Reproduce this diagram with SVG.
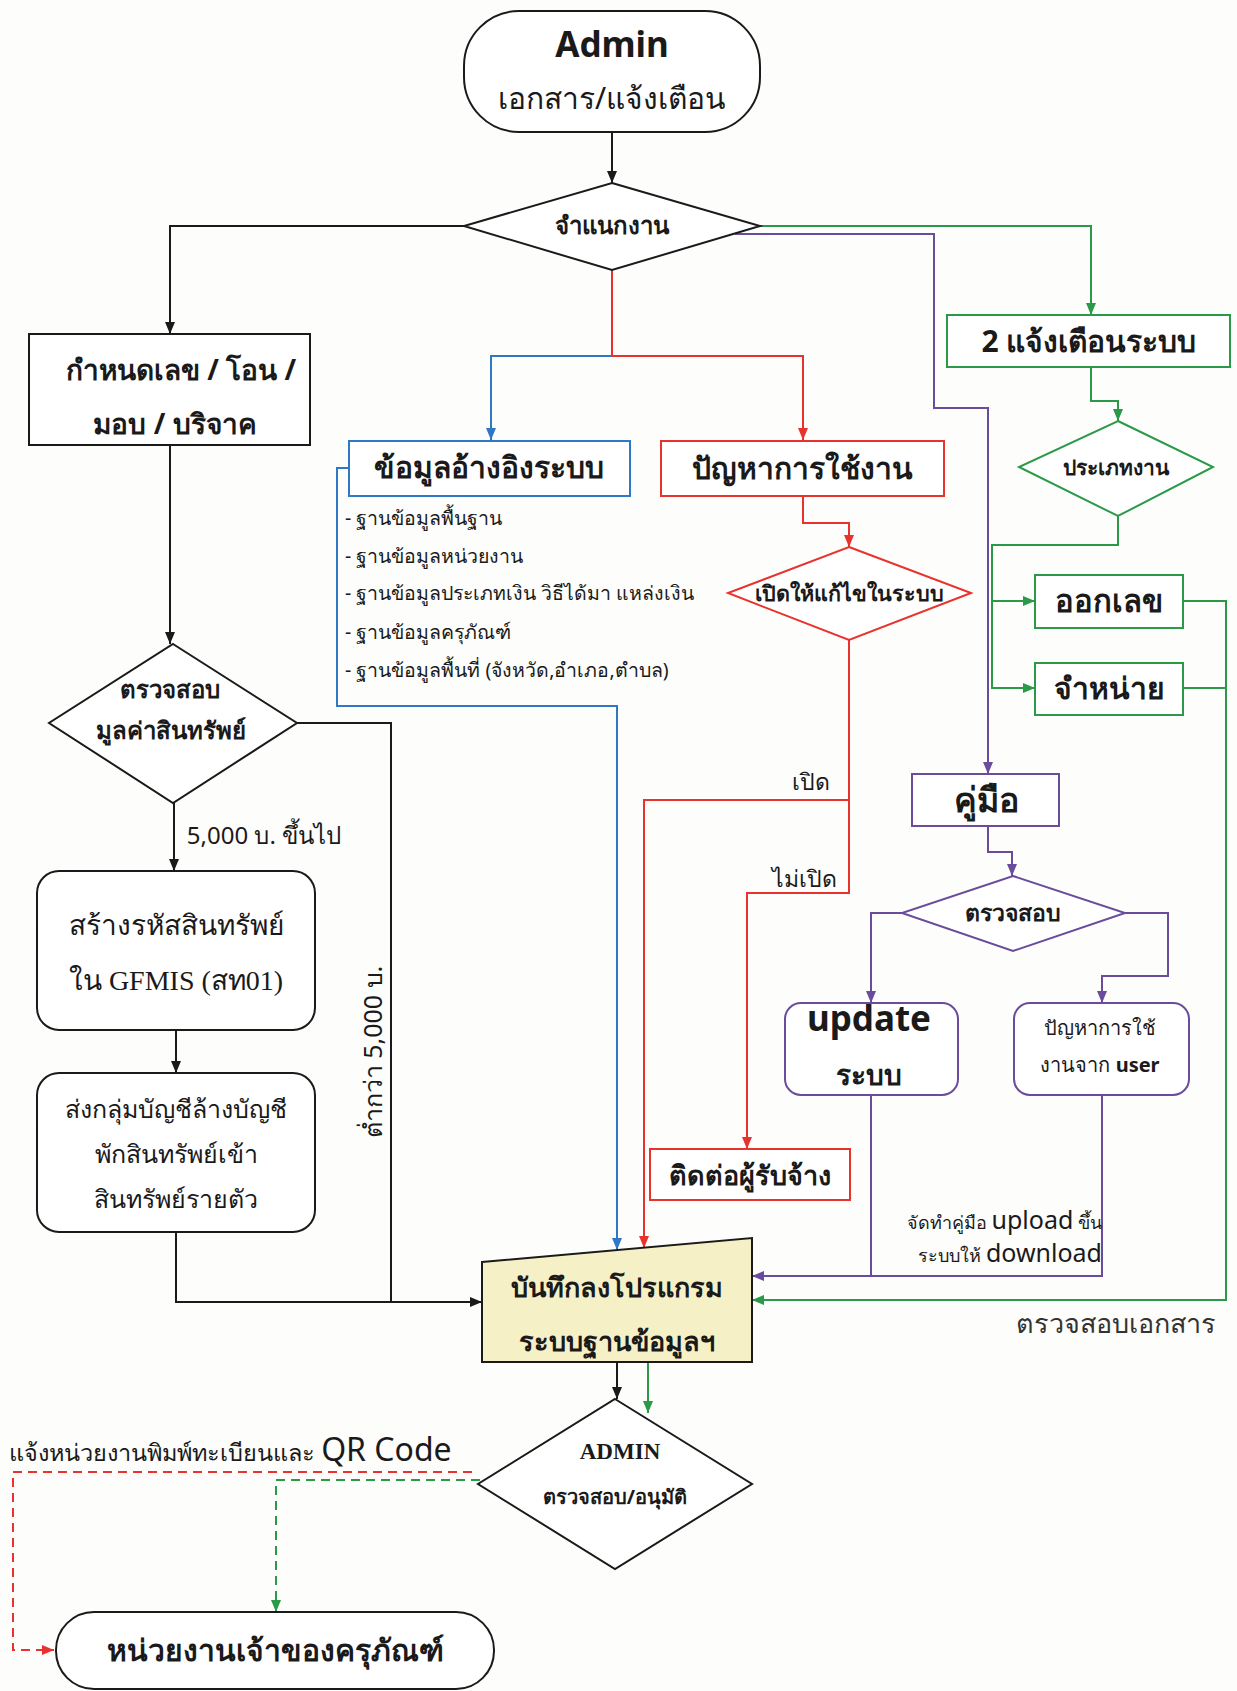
<svg xmlns="http://www.w3.org/2000/svg" width="1237" height="1691" viewBox="0 0 1237 1691">
<defs>
<style>
.bg{fill:#fdfdfb}
.k{stroke:#1a1a1a}
.r{stroke:#e8322e}
.b{stroke:#2f78c4}
.g{stroke:#2a9a48}
.p{stroke:#6a4b9c}
.ln{fill:none;stroke-width:2}
.dash{stroke-dasharray:9 6}
.box{fill:#ffffff;stroke-width:2}
.t{font-family:"Noto Sans","DejaVu Sans",sans-serif;fill:#1a1a1a;text-anchor:middle}
.bold{font-weight:bold}
.serif{font-family:"Liberation Serif","DejaVu Serif",serif}
</style>
<marker id="ak" viewBox="0 0 12 10" refX="12" refY="5" markerWidth="12" markerHeight="10" markerUnits="userSpaceOnUse" orient="auto"><path d="M0,0 L12,5 L0,10 z" fill="#1a1a1a"/></marker>
<marker id="ar" viewBox="0 0 12 10" refX="12" refY="5" markerWidth="12" markerHeight="10" markerUnits="userSpaceOnUse" orient="auto"><path d="M0,0 L12,5 L0,10 z" fill="#e8322e"/></marker>
<marker id="ab" viewBox="0 0 12 10" refX="12" refY="5" markerWidth="12" markerHeight="10" markerUnits="userSpaceOnUse" orient="auto"><path d="M0,0 L12,5 L0,10 z" fill="#2f78c4"/></marker>
<marker id="ag" viewBox="0 0 12 10" refX="12" refY="5" markerWidth="12" markerHeight="10" markerUnits="userSpaceOnUse" orient="auto"><path d="M0,0 L12,5 L0,10 z" fill="#2a9a48"/></marker>
<marker id="ap" viewBox="0 0 12 10" refX="12" refY="5" markerWidth="12" markerHeight="10" markerUnits="userSpaceOnUse" orient="auto"><path d="M0,0 L12,5 L0,10 z" fill="#6a4b9c"/></marker>
</defs>
<rect class="bg" x="0" y="0" width="1237" height="1691"/>

<g id="connectors">
<path class="ln k" d="M612,132 V183" marker-end="url(#ak)"/>
<path class="ln k" d="M464,226 H170 V334" marker-end="url(#ak)"/>
<path class="ln k" d="M170,445 V644" marker-end="url(#ak)"/>
<path class="ln k" d="M174,803 V871" marker-end="url(#ak)"/>
<path class="ln k" d="M297,723 H391 V1302"/>
<path class="ln k" d="M176,1030 V1073" marker-end="url(#ak)"/>
<path class="ln k" d="M176,1232 V1302 H482" marker-end="url(#ak)"/>
<path class="ln k" d="M617,1362 V1399" marker-end="url(#ak)"/>

<path class="ln r" d="M612,270 V356 H803 V440" marker-end="url(#ar)"/>
<path class="ln r" d="M803,496 V523 H849 V547" marker-end="url(#ar)"/>
<path class="ln r" d="M849,640 V893 H747 V1149" marker-end="url(#ar)"/>
<path class="ln r" d="M849,800 H644 V1248" marker-end="url(#ar)"/>
<path class="ln r dash" d="M472,1472 H13 V1650 H54" marker-end="url(#ar)"/>

<path class="ln b" d="M612,356 H491 V440" marker-end="url(#ab)"/>
<path class="ln b" d="M349,468 H337 V706 H617 V1250" marker-end="url(#ab)"/>

<path class="ln g" d="M760,226 H1091 V315" marker-end="url(#ag)"/>
<path class="ln g" d="M1091,367 V401 H1118 V421" marker-end="url(#ag)"/>
<path class="ln g" d="M1118,516 V545 H992 V688 H1035" marker-end="url(#ag)"/>
<path class="ln g" d="M992,601 H1035" marker-end="url(#ag)"/>
<path class="ln g" d="M1183,601 H1226 V1300 H752" marker-end="url(#ag)"/>
<path class="ln g" d="M1183,688 H1226"/>
<path class="ln g" d="M648,1362 V1413" marker-end="url(#ag)"/>
<path class="ln g dash" d="M480,1480 H276 V1612" marker-end="url(#ag)"/>

<path class="ln p" d="M735,234 H934 V408 H988 V774" marker-end="url(#ap)"/>
<path class="ln p" d="M988,826 V852 H1012 V876" marker-end="url(#ap)"/>
<path class="ln p" d="M902,913 H871 V1003" marker-end="url(#ap)"/>
<path class="ln p" d="M1125,913 H1168 V976 H1102 V1003" marker-end="url(#ap)"/>
<path class="ln p" d="M871,1095 V1276"/>
<path class="ln p" d="M1102,1095 V1276 H752" marker-end="url(#ap)"/>
</g>

<g id="n-admin">
<rect class="box k" x="464" y="11" width="296" height="121" rx="55" ry="55"/>
<text class="t bold" x="612" y="57" font-size="35">Admin</text>
<text class="t" x="612" y="109" font-size="30">เอกสาร/แจ้งเตือน</text>
</g>

<g id="n-classify">
<polygon class="box k" points="612,183 760,226 612,270 464,226"/>
<text class="t bold" x="612" y="234" font-size="24">จำแนกงาน</text>
</g>

<g id="n-assign">
<rect class="box k" x="29" y="334" width="281" height="111"/>
<text class="t bold" x="181" y="380" font-size="28">กำหนดเลข / โอน /</text>
<text class="t bold" x="175" y="434" font-size="28">มอบ / บริจาค</text>
</g>

<g id="n-value">
<polygon class="box k" points="173,644 297,723 173,803 49,723"/>
<text class="t bold" x="170" y="698" font-size="24">ตรวจสอบ</text>
<text class="t bold" x="171" y="739" font-size="24">มูลค่าสินทรัพย์</text>
</g>
<text class="t" x="264" y="844" font-size="24">5,000 บ. ขึ้นไป</text>
<text class="t" transform="translate(382,1052) rotate(-90)" font-size="25">ต่ำกว่า 5,000 บ.</text>

<g id="n-gfmis">
<rect class="box k" x="37" y="871" width="278" height="159" rx="22"/>
<text class="t serif" x="176" y="935" font-size="28">สร้างรหัสสินทรัพย์</text>
<text class="t serif" x="176" y="990" font-size="28">ใน GFMIS (สท01)</text>
</g>

<g id="n-account">
<rect class="box k" x="37" y="1073" width="278" height="159" rx="22"/>
<text class="t serif" x="176" y="1118" font-size="25">ส่งกลุ่มบัญชีล้างบัญชี</text>
<text class="t serif" x="176" y="1163" font-size="25">พักสินทรัพย์เข้า</text>
<text class="t serif" x="176" y="1208" font-size="25">สินทรัพย์รายตัว</text>
</g>

<g id="n-refdata">
<rect class="box b" x="349" y="441" width="281" height="55"/>
<text class="t bold" x="489" y="478" font-size="30">ข้อมูลอ้างอิงระบบ</text>
<g class="t" font-size="19.5" style="text-anchor:start">
<text x="345" y="525">- ฐานข้อมูลพื้นฐาน</text>
<text x="345" y="563">- ฐานข้อมูลหน่วยงาน</text>
<text x="345" y="600">- ฐานข้อมูลประเภทเงิน วิธีได้มา แหล่งเงิน</text>
<text x="345" y="639">- ฐานข้อมูลครุภัณฑ์</text>
<text x="345" y="677">- ฐานข้อมูลพื้นที่ (จังหวัด,อำเภอ,ตำบล)</text>
</g>
</g>

<g id="n-problem">
<rect class="box r" x="661" y="441" width="283" height="55"/>
<text class="t bold" x="802" y="479" font-size="30">ปัญหาการใช้งาน</text>
</g>

<g id="n-open">
<polygon class="box r" points="849,547 971,593 849,640 728,593"/>
<text class="t bold" x="849" y="601" font-size="21.5">เปิดให้แก้ไขในระบบ</text>
</g>
<text class="t" x="811" y="790" font-size="23">เปิด</text>
<text class="t" x="804" y="887" font-size="23">ไม่เปิด</text>

<g id="n-contractor">
<rect class="box r" x="650" y="1149" width="200" height="51"/>
<text class="t bold" x="750" y="1185" font-size="27">ติดต่อผู้รับจ้าง</text>
</g>

<g id="n-alert">
<rect class="box g" x="947" y="315" width="283" height="52"/>
<text class="t bold" x="1089" y="352" font-size="30">2 แจ้งเตือนระบบ</text>
</g>

<g id="n-type">
<polygon class="box g" points="1118,421 1213,467 1118,516 1019,467"/>
<text class="t bold" x="1116" y="475" font-size="21">ประเภทงาน</text>
</g>

<g id="n-issue">
<rect class="box g" x="1035" y="575" width="148" height="53"/>
<text class="t bold" x="1109" y="612" font-size="31">ออกเลข</text>
</g>

<g id="n-dispose">
<rect class="box g" x="1035" y="663" width="148" height="52"/>
<text class="t bold" x="1109" y="699" font-size="30">จำหน่าย</text>
</g>
<text class="t" x="1116" y="1333" font-size="27" style="fill:#333">ตรวจสอบเอกสาร</text>

<g id="n-manual">
<rect class="box p" x="912" y="774" width="147" height="52"/>
<text class="t bold" x="986" y="812" font-size="34">คู่มือ</text>
</g>

<g id="n-check">
<polygon class="box p" points="1013,876 1125,913 1013,951 902,913"/>
<text class="t bold" x="1013" y="921" font-size="23">ตรวจสอบ</text>
</g>

<g id="n-update">
<rect class="box p" x="785" y="1003" width="173" height="92" rx="16"/>
<text class="t bold" x="869" y="1031" font-size="35">update</text>
<text class="t bold" x="869" y="1085" font-size="28">ระบบ</text>
</g>

<g id="n-userissue">
<rect class="box p" x="1014" y="1003" width="175" height="92" rx="16"/>
<text class="t" x="1100" y="1035" font-size="20">ปัญหาการใช้</text>
<text class="t" x="1100" y="1072" font-size="20">งานจาก <tspan font-weight="bold">user</tspan></text>
</g>
<text class="t" x="1102" y="1229" font-size="18" style="text-anchor:end">จัดทำคู่มือ <tspan font-size="25">upload</tspan> ขึ้น</text>
<text class="t" x="1102" y="1262" font-size="18" style="text-anchor:end">ระบบให้ <tspan font-size="25">download</tspan></text>

<g id="n-record">
<polygon points="482,1262 752,1238 752,1362 482,1362" fill="#f6f0c6" stroke="#1a1a1a" stroke-width="2"/>
<text class="t bold" x="617" y="1297" font-size="27">บันทึกลงโปรแกรม</text>
<text class="t bold" x="617" y="1351" font-size="27">ระบบฐานข้อมูลฯ</text>
</g>

<g id="n-approve">
<polygon class="box k" points="615,1399 752,1484 615,1569 478,1484"/>
<text class="t bold serif" x="620" y="1459" font-size="23">ADMIN</text>
<text class="t bold" x="615" y="1504" font-size="20">ตรวจสอบ/อนุมัติ</text>
</g>
<text class="t" x="9" y="1461" font-size="23.5" style="text-anchor:start">แจ้งหน่วยงานพิมพ์ทะเบียนและ <tspan font-size="32">QR Code</tspan></text>

<g id="n-owner">
<rect class="box k" x="56" y="1612" width="438" height="77" rx="38" ry="38"/>
<text class="t bold" x="275" y="1661" font-size="30">หน่วยงานเจ้าของครุภัณฑ์</text>
</g>
</svg>
